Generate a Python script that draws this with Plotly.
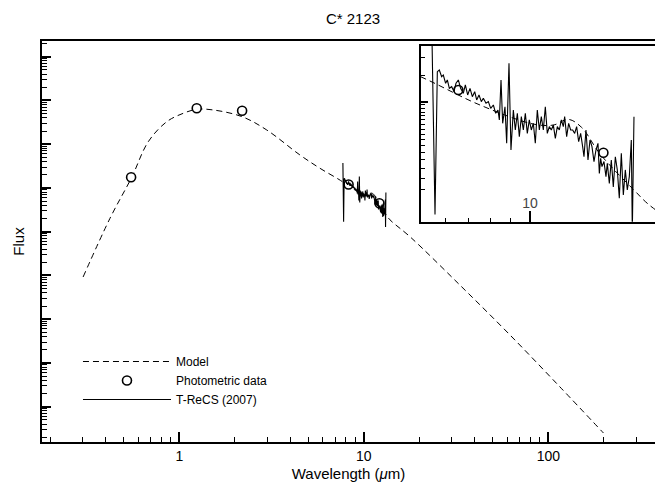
import plotly.graph_objects as go

# ---------------- data ----------------
model_wl = [0.301, 0.421, 0.552, 0.679, 0.855, 1.05, 1.243, 1.53, 2.19, 2.98, 4.51, 5.79,
            7.482, 8.758, 10.088, 10.638, 11.069, 11.467, 12.04, 13.152, 13.873,
            17.8, 33.2, 62.0, 115.7, 199.0]
model_flux = [0.0922, 2.024, 17.51, 114.1, 326.7, 507.9, 627.9, 605.7, 425.2, 211.0, 56.6, 28.10,
              14.83, 9.49, 7.03, 6.92, 7.57, 6.67, 4.39, 2.51, 1.863,
              0.768, 0.0601, 0.004358, 2.823e-4, 2.506e-5]

phot_wl = [0.548, 1.243, 2.19, 8.27, 12.15]
phot_flux = [17.51, 661.3, 583.0, 12.03, 4.469]

spec_wl = [7.704, 7.773, 7.821, 7.862, 7.911, 7.946, 7.995, 8.031, 8.074, 8.124, 8.174, 8.218,
           8.269, 8.320, 8.379, 8.424, 8.476, 8.529, 8.582, 8.636, 8.681, 8.735, 8.789, 8.836,
           8.899, 8.954, 9.010, 9.074, 9.130, 9.186, 9.219, 9.260, 9.301, 9.358, 9.400, 9.458,
           9.508, 9.568, 9.618, 9.670, 9.721, 9.773, 9.825, 9.877, 9.929, 9.982, 10.035, 10.089,
           10.142, 10.196, 10.251, 10.305, 10.360, 10.415, 10.470, 10.526, 10.582, 10.638, 10.695,
           10.752, 10.809, 10.867, 10.924, 10.963, 11.021, 11.080, 11.139, 11.198, 11.258, 11.317,
           11.378, 11.438, 11.499, 11.540, 11.601, 11.663, 11.725, 11.787, 11.850, 11.913, 11.976,
           12.019, 12.061, 12.104, 12.168, 12.233, 12.276, 12.342, 12.407, 12.473, 12.540, 12.606,
           12.673, 12.741, 12.809, 12.877, 12.945, 13.014, 13.083, 13.118, 13.176]
spec_flux = [37.2, 1.69, 16.06, 16.49, 14.85, 15.24, 13.37, 14.09, 12.35, 12.67, 11.72, 13.37,
             14.09, 12.35, 11.41, 13.02, 11.12, 12.35, 10.83, 11.72, 10.28, 11.12, 10.01, 10.55,
             9.75, 10.01, 9.01, 9.49, 8.33, 8.77, 7.50, 14.09, 7.11, 9.24, 5.19, 18.32,
             4.67, 8.77, 6.40, 8.33, 5.76, 7.90, 6.40, 8.33, 6.07, 7.50, 6.40, 7.11,
             5.19, 8.77, 6.40, 7.90, 6.40, 9.24, 6.07, 6.75, 6.40, 6.93, 5.61,
             6.75, 6.40, 7.50, 6.75, 7.90, 5.76, 7.11, 6.40, 6.40, 6.07, 6.75,
             5.33, 6.07, 4.92, 4.20, 6.40, 3.99, 5.47, 4.92, 3.89, 4.67, 5.19,
             3.23, 4.09, 3.59, 3.89, 3.07, 3.79, 2.76, 3.99, 2.61, 4.20, 3.41,
             2.18, 4.43, 2.30, 3.41, 2.49, 3.07, 5.47, 1.28, 7.90]

x_tick_vals = [1, 10, 100]
x_tick_text = ["1", "10", "100"]
inset_x_tick_vals = [10]
inset_x_tick_text = ["10"]
inset_x_minor_vals = [8, 8.5, 9, 9.5]
inset_y_tick_vals = [10]
inset_y_minor_vals = [2, 2.5, 3, 3.5, 4, 4.5, 5, 5.5, 6, 6.5, 7, 7.5, 8, 8.5, 9, 9.5, 15, 20]

FONT = "Liberation Sans, Arial, Helvetica, sans-serif"
DASH = "6px,4px"

fig = go.Figure()

# ---- main panel ----
fig.add_trace(go.Scatter(x=model_wl, y=model_flux, mode="lines", name="Model",
                         line=dict(color="black", width=1, dash=DASH, shape="spline", smoothing=1.0),
                         xaxis="x", yaxis="y"))
fig.add_trace(go.Scatter(x=phot_wl, y=phot_flux, mode="markers", name="Photometric data",
                         marker=dict(symbol="circle", size=9, color="white",
                                     line=dict(color="black", width=1.6)),
                         xaxis="x", yaxis="y"))
fig.add_trace(go.Scatter(x=spec_wl, y=spec_flux, mode="lines", name="T-ReCS (2007)",
                         line=dict(color="black", width=1.1),
                         xaxis="x", yaxis="y"))

# ---- inset panel ----
fig.add_trace(go.Scatter(x=model_wl, y=model_flux, mode="lines", showlegend=False,
                         line=dict(color="black", width=1, dash=DASH, shape="spline", smoothing=1.0),
                         xaxis="x2", yaxis="y2"))
fig.add_trace(go.Scatter(x=phot_wl, y=phot_flux, mode="markers", showlegend=False,
                         marker=dict(symbol="circle", size=9, color="white",
                                     line=dict(color="black", width=1.6)),
                         xaxis="x2", yaxis="y2"))
fig.add_trace(go.Scatter(x=spec_wl, y=spec_flux, mode="lines", showlegend=False,
                         line=dict(color="black", width=1.1),
                         xaxis="x2", yaxis="y2"))

W, H = 655, 491
ML, MT, MB, MR = 42, 41, 49, 0
PW, PH = W - ML - MR, H - MT - MB

fig.update_layout(
    width=W, height=H,
    margin=dict(l=ML, r=MR, t=MT, b=MB, pad=0),
    paper_bgcolor="white", plot_bgcolor="white",
    font=dict(family=FONT, color="black", size=14),
    title=dict(text="C* 2123", x=353 / W, xref="container", xanchor="center",
               y=1 - 18.7 / H, yref="container", yanchor="middle",
               font=dict(size=15, family=FONT, color="black")),
    showlegend=True,
    legend=dict(x=0.0587, y=0.2369, xanchor="left", yanchor="top",
                bgcolor="rgba(0,0,0,0)", font=dict(size=12, family=FONT),
                itemwidth=88, tracegroupgap=0),
    xaxis=dict(type="log", range=[-0.7442, 2.5783], domain=[0, 1], anchor="y",
               tickmode="array", tickvals=x_tick_vals, ticktext=x_tick_text,
               ticks="inside", ticklen=10, tickwidth=2, tickcolor="black",
               minor=dict(ticks="inside", ticklen=5, tickwidth=1, tickcolor="black",
                          dtick="D1", showgrid=False),
               showline=True, linewidth=2, linecolor="black", mirror=True,
               showgrid=False, zeroline=False, automargin=False,
               tickfont=dict(size=14),
               title=dict(text="Wavelength (<i>μ</i>m)", font=dict(size=15), standoff=6)),
    yaxis=dict(type="log", range=[-4.807, 4.359], domain=[0, 1], anchor="x",
               dtick=1, tick0=0, showticklabels=False,
               ticks="inside", ticklen=9, tickwidth=2, tickcolor="black",
               minor=dict(ticks="inside", ticklen=5, tickwidth=1, tickcolor="black",
                          dtick="D1", showgrid=False),
               showline=True, linewidth=2, linecolor="black", mirror=False,
               showgrid=False, zeroline=False, automargin=False,
               title=dict(text="Flux", font=dict(size=15), standoff=12)),
    xaxis2=dict(type="log", range=[0.8741, 1.1440], domain=[(420.7 - ML) / PW, 1.0],
                anchor="y2", tickmode="array", tickvals=inset_x_tick_vals,
                ticktext=inset_x_tick_text, ticklabelposition="inside",
                ticks="inside", ticklen=11, tickwidth=2, tickcolor="black",
                minor=dict(ticks="inside", ticklen=4, tickwidth=1, tickcolor="black",
                           tickmode="array", tickvals=inset_x_minor_vals, showgrid=False),
                showline=True, linewidth=2, linecolor="black", mirror=True,
                showgrid=False, zeroline=False, automargin=False,
                tickfont=dict(size=14)),
    yaxis2=dict(type="log", range=[0.1781, 1.3815],
                domain=[1 - (221.7 - MT) / PH, 1 - (46 - MT) / PH],
                anchor="x2", tickmode="array", tickvals=inset_y_tick_vals, showticklabels=False,
                ticks="inside", ticklen=7, tickwidth=2, tickcolor="black",
                minor=dict(ticks="inside", ticklen=4, tickwidth=1, tickcolor="black",
                           tickmode="array", tickvals=inset_y_minor_vals, showgrid=False),
                showline=True, linewidth=2, linecolor="black", mirror=False,
                showgrid=False, zeroline=False, automargin=False),
)

fig.write_html("out.html")
